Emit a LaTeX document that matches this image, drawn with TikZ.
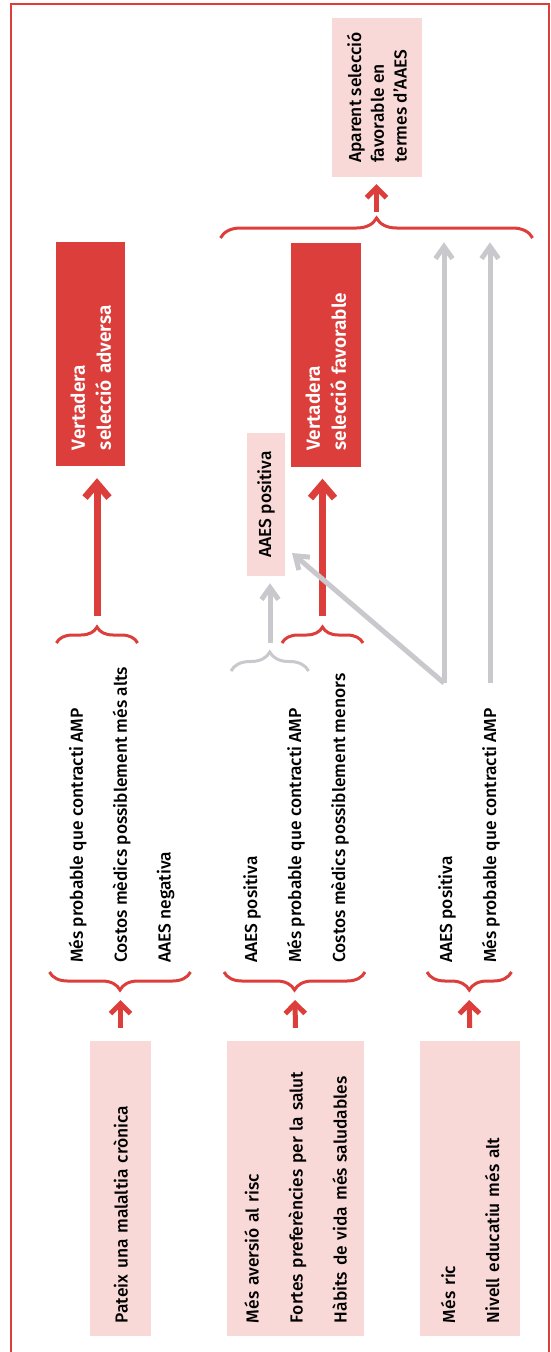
\documentclass[tikz,border=0pt]{standalone}
\usepackage{fontspec}
\setmainfont{Fira Sans}[UprightFont={* Medium}, BoldFont={* SemiBold}]
\usepackage{xcolor}
\usetikzlibrary{arrows.meta,positioning,decorations.pathreplacing}
\definecolor{selred}{HTML}{DC3F3B}
\definecolor{selpink}{HTML}{F8D9D8}
\definecolor{selgray}{HTML}{C9C9CD}

\begin{document}
\begin{tikzpicture}[
    x=1pt, y=-1pt,
    every node/.style={font=\fontsize{17.4}{21}\selectfont},
    cause/.style={rotate=90, fill=selpink, minimum width=295pt, inner xsep=13pt, inner ysep=0pt, text width=269pt, align=left},
    effect/.style={rotate=90, anchor=west, inner sep=0pt},
    result/.style={rotate=90, fill=selred, text=white, minimum width=224pt, minimum height=69pt, inner xsep=16pt, inner ysep=0pt, text width=192pt, align=left, font=\fontsize{19}{26}\selectfont\bfseries},
    note/.style={rotate=90, fill=selpink, inner sep=0pt, align=left},
    brace/.style={decorate, decoration={brace, amplitude=#1}, draw=selred, line width=3pt},
    arrow/.style={draw=selred, line width=5pt, -{Straight Barb[length=10pt, width=20pt]}},
    bigarrow/.style={draw=selred, line width=7pt, -{Straight Barb[length=14pt, width=24pt]}},
    grayarrow/.style={draw=selgray, line width=5pt, -{Straight Barb[length=12pt, width=17pt]}}
]
    % Frame
    \useasboundingbox (0,0) rectangle (551,1352);
    \draw[selred, line width=2pt] (10.6,1352) -- (10.6,4) -- (548.5,4) -- (548.5,1352);

    % Nodes
    \node[cause, minimum height=61pt] (c1) at (120.5,1188.5) {Pateix una malaltia crònica};
    \node[cause, minimum height=137pt] (c2) at (295.5,1188.5) {Més aversió al risc\\[23pt]Fortes preferències per la salut\\[23pt]Hàbits de vida més saludables};
    \node[cause, minimum height=99.5pt] (c3) at (470,1188.5) {Més ric\\[23pt]Nivell educatiu més alt};

    \node[effect] (e1a) at (77.6,963) {Més probable que contracti AMP};
    \node[effect] (e1b) at (121.6,963) {Costos mèdics possiblement més alts};
    \node[effect] (e1c) at (165.7,963) {AAES negativa};
    \node[effect] (e2a) at (252,963) {AAES positiva};
    \node[effect] (e2b) at (296,963) {Més probable que contracti AMP};
    \node[effect] (e2c) at (340,963) {Costos mèdics possiblement menors};
    \node[effect] (e3a) at (447,963) {AAES positiva};
    \node[effect] (e3b) at (491,963) {Més probable que contracti AMP};

    \node[result] (r1) at (90.8,354) {Vertadera\\selecció adversa};
    \node[result, minimum height=69.5pt] (r2) at (325.8,354.5) {Vertadera\\selecció favorable};

    \node[note, minimum width=143pt, minimum height=38pt] (p2) at (266,504.5) {AAES positiva};
    \node[note, minimum width=159pt, minimum height=90.4pt, font=\fontsize{17.4}{22.7}\selectfont] (a1) at (376.8,97.5) {Aparent selecció\\favorable en\\termes d’AAES};

    % Braces
    \draw[brace=18] (190.5,972) -- (49.5,972);
    \draw[brace=18] (365,972) -- (224,972);
    \draw[brace=18] (511.5,972) -- (427,972);
    \draw[brace=16] (56.4,643) -- (137.6,643);
    \draw[brace=16] (282,643) -- (363,643);
    \draw[brace=19, draw=selgray] (231,671) -- (308.6,671);
    \draw[brace=20] (220.5,238) -- (532.6,238);

    \coordinate (t1) at (120.5,990);
    \coordinate (t2) at (295,990);
    \coordinate (t3) at (469,990);
    \coordinate (u1) at (97,627);
    \coordinate (u2) at (322.5,627);
    \coordinate (ug) at (270,652);
    \coordinate (ut) at (376.5,218);
    \coordinate (g3a) at (444,683);
    \coordinate (g3b) at (490,683);
    \coordinate (d2) at (292,553);

    % Arrows
    \draw[arrow, shorten <=13pt, shorten >=10pt] (c1.east) -- (t1);
    \draw[arrow, shorten <=13pt, shorten >=10pt] (c2.east) -- (t2);
    \draw[arrow, shorten <=13pt, shorten >=10pt] (c3.east) -- (t3);
    \draw[bigarrow, shorten <=11pt, shorten >=12pt] (u1) -- (u1 |- r1.west);
    \draw[bigarrow, shorten <=11pt, shorten >=12pt] (u2) -- (u2 |- r2.west);
    \draw[grayarrow, shorten <=9pt, shorten >=7pt] (ug) -- (ug |- p2.west);
    \draw[grayarrow] (g3a) -- (d2);
    \draw[grayarrow] (g3a) -- (g3a |- r2.east);
    \draw[grayarrow] (g3b) -- (g3b |- r2.east);
    \draw[arrow, shorten <=6pt, shorten >=7pt] (ut) -- (ut |- a1.west);
\end{tikzpicture}
\end{document}
